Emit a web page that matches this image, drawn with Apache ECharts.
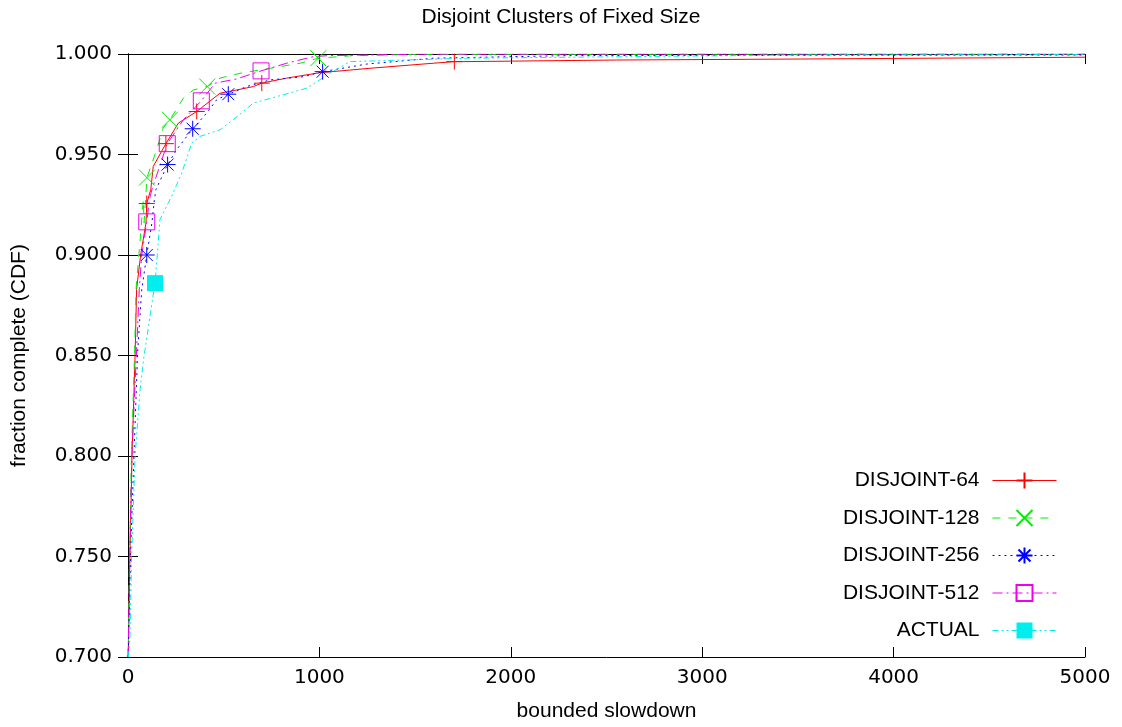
<!DOCTYPE html>
<html>
<head>
<meta charset="utf-8">
<script src="https://cdn.jsdelivr.net/npm/echarts@6/dist/echarts.min.js"></script>
<style>
  html, body {margin: 0; padding: 0; background: #fff;}
  #chart {width: 1122px; height: 727px;}
</style>
</head>
<body>
<div id="chart"></div>
<script>
// curve points
const d64x = [1, 10, 21, 37, 45, 66, 94, 119, 132, 263, 481, 568, 655, 707, 829, 1003, 1264, 1594, 1750, 2553, 3514, 5000];
const d64y = [0.700, 0.750, 0.800, 0.850, 0.883, 0.900, 0.916, 0.9326, 0.9441, 0.9656, 0.9805, 0.9821, 0.9838, 0.9863, 0.9880, 0.9907, 0.9929, 0.9954, 0.9962, 0.9970, 0.9975, 0.9984];
const d64mx = [98, 198, 359, 699, 1705];
const d64my = [0.9256, 0.9554, 0.9714, 0.9855, 0.9962];

const d128x = [1, 8, 18, 35, 42, 57, 80, 84, 150, 184, 289, 341, 481, 585, 742, 899, 1176, 1500, 5000];
const d128y = [0.700, 0.750, 0.800, 0.853, 0.883, 0.900, 0.9276, 0.916, 0.9524, 0.9632, 0.9780, 0.9821, 0.9880, 0.9904, 0.9929, 0.9954, 0.9992, 0.9998, 1.000];
const d128mx = [99, 219, 414, 994];
const d128my = [0.9385, 0.9673, 0.9838, 0.9979];

const d256x = [1, 13, 31, 51, 72, 125, 138, 146, 254, 411, 463, 620, 742, 916, 1247, 1595, 2292, 5000];
const d256y = [0.700, 0.750, 0.800, 0.853, 0.883, 0.916, 0.9276, 0.9326, 0.9524, 0.9706, 0.9772, 0.9838, 0.9871, 0.9887, 0.9950, 0.9979, 0.9992, 0.9995];
const d256mx = [98, 207, 338, 524, 1017];
const d256my = [0.900, 0.945, 0.9628, 0.980, 0.9912];

const d512x = [1, 9, 20, 45, 59, 72, 112, 125, 289, 455, 568, 829, 968, 1050, 1500, 5000];
const d512y = [0.700, 0.750, 0.800, 0.853, 0.883, 0.900, 0.9276, 0.9326, 0.9673, 0.9855, 0.9876, 0.9954, 0.9987, 0.9992, 0.9999, 1.000];
const d512mx = [98, 205, 383, 695];
const d512my = [0.9165, 0.9554, 0.9767, 0.9916];

const actx = [2, 10, 19, 28, 37, 63, 84, 89, 153, 167, 211, 228, 281, 333, 376, 481, 550, 655, 777, 934, 1055, 1160, 1770, 3511, 5000];
const acty = [0.700, 0.709, 0.750, 0.775, 0.800, 0.833, 0.850, 0.853, 0.900, 0.9177, 0.926, 0.9292, 0.9408, 0.9557, 0.959, 0.9623, 0.9673, 0.9756, 0.9788, 0.983, 0.9904, 0.9962, 0.9979, 0.9995, 0.9997];
const actmx = [141];
const actmy = [0.886];

const names = ['DISJOINT-64', 'DISJOINT-128', 'DISJOINT-256', 'DISJOINT-512', 'ACTUAL'];

function build(xs, ys, mx, my) {
    let pts = xs.map((x, i) => ({value: [x, ys[i]], symbol: 'none'}));
    mx.forEach((x, i) => pts.push({value: [x, my[i]]}));
    pts.sort((a, b) => a.value[0] - b.value[0]);
    return pts;
}

const plus = 'path://M0,8L16,8M8,0L8,16';
const cross = 'path://M0,0L16,16M16,0L0,16';
const star = 'path://M0,8L16,8M8,0L8,16M2,2L14,14M14,2L2,14';

function mkSeries(name, data, color, dash, symbol, filled) {
    return {
        name: name,
        type: 'line',
        data: data,
        symbol: symbol,
        symbolSize: 16,
        showSymbol: true,
        showAllSymbol: true,
        animation: false,
        lineStyle: {color: color, width: 1, type: dash},
        itemStyle: {
            color: filled ? color : 'rgba(0,0,0,0)',
            borderColor: color,
            borderWidth: filled ? 0 : 1
        },
        emphasis: {disabled: true}
    };
}

let chart = echarts.init(document.getElementById('chart'));
let sans = 'Liberation Sans';
let tickText = {color: '#000', fontSize: 20, fontFamily: 'DejaVu Sans'};
let option = {
    backgroundColor: '#fff',
    title: {
        text: 'Disjoint Clusters of Fixed Size',
        left: 'center',
        top: 2,
        textStyle: {fontSize: 21, fontWeight: 'normal', color: '#000', fontFamily: sans}
    },
    grid: {left: 128, right: 37, top: 54, bottom: 68},
    legend: {
        orient: 'vertical',
        right: 60,
        top: 465,
        align: 'right',
        itemWidth: 64,
        itemHeight: 20,
        itemGap: 16.5,
        data: names,
        lineStyle: {width: 1},
        textStyle: {fontSize: 21, color: '#000', fontFamily: sans, padding: [0, 8, 0, 0]}
    },
    xAxis: [{
        type: 'value',
        min: 0, max: 5000, interval: 1000,
        name: 'bounded slowdown',
        nameLocation: 'middle',
        nameGap: 44,
        nameTextStyle: {fontSize: 21, color: '#000', fontFamily: sans},
        axisLine: {lineStyle: {color: '#000'}},
        axisTick: {inside: true, length: 10, lineStyle: {color: '#000'}},
        axisLabel: Object.assign({formatter: v => String(v), margin: 11}, tickText),
        splitLine: {show: false}
    }, {
        type: 'value', position: 'top',
        min: 0, max: 5000, interval: 1000,
        axisLine: {show: true, lineStyle: {color: '#000'}},
        axisTick: {inside: true, length: 10, lineStyle: {color: '#000'}},
        axisLabel: {show: false},
        splitLine: {show: false}
    }],
    yAxis: [{
        type: 'value',
        min: 0.7, max: 1.0, interval: 0.05,
        name: 'fraction complete (CDF)',
        nameLocation: 'middle',
        nameGap: 98,
        nameTextStyle: {fontSize: 21, color: '#000', fontFamily: sans},
        axisLine: {show: true, lineStyle: {color: '#000'}},
        axisTick: {show: true, inside: true, length: 10, lineStyle: {color: '#000'}},
        axisLabel: Object.assign({formatter: v => v.toFixed(3), margin: 16}, tickText),
        splitLine: {show: false}
    }, {
        type: 'value', position: 'right',
        min: 0.7, max: 1.0, interval: 0.05,
        axisLine: {show: true, lineStyle: {color: '#000'}},
        axisTick: {show: true, inside: true, length: 10, lineStyle: {color: '#000'}},
        axisLabel: {show: false},
        splitLine: {show: false}
    }],
    series: [
        mkSeries(names[0], build(d64x, d64y, d64mx, d64my), '#ff0000', 'solid', plus, false),
        mkSeries(names[1], build(d128x, d128y, d128mx, d128my), '#00ee00', [8, 8], cross, false),
        mkSeries(names[2], build(d256x, d256y, d256mx, d256my), '#0000ff', [2, 4], star, false),
        mkSeries(names[3], build(d512x, d512y, d512mx, d512my), '#ee00ee', [10, 4, 2, 4], 'rect', false),
        mkSeries(names[4], build(actx, acty, actmx, actmy), '#00eeee', [6, 3, 2, 3, 2, 3], 'rect', true)
    ]
};
chart.setOption(option);
</script>
</body>
</html>
